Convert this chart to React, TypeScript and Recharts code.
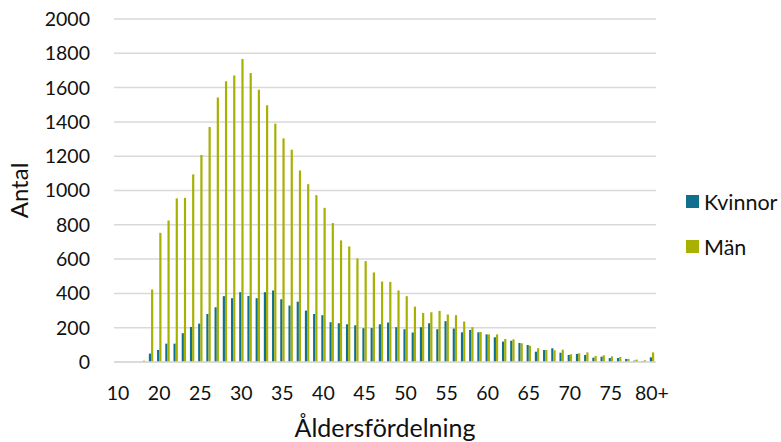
import React from 'react';
import { BarChart, Bar, XAxis, YAxis, CartesianGrid, Legend } from 'recharts';

// Åldersgrupper: "10" är första gruppen, därefter 16 ... 79 och 80+
const ages: string[] = [
  '10', '16', '17', '18', '19',
  '20', '21', '22', '23', '24', '25', '26', '27', '28', '29',
  '30', '31', '32', '33', '34', '35', '36', '37', '38', '39',
  '40', '41', '42', '43', '44', '45', '46', '47', '48', '49',
  '50', '51', '52', '53', '54', '55', '56', '57', '58', '59',
  '60', '61', '62', '63', '64', '65', '66', '67', '68', '69',
  '70', '71', '72', '73', '74', '75', '76', '77', '78', '79',
  '80+',
];

const kvinnor: number[] = [
  0, 0, 0, 0, 49,
  70, 107, 107, 168, 204, 224, 280, 319, 384, 372,
  407, 385, 372, 407, 417, 366, 329, 352, 300, 280,
  273, 232, 226, 220, 214, 197, 198, 220, 230, 203,
  191, 172, 203, 226, 191, 238, 195, 173, 187, 173,
  161, 144, 119, 124, 111, 99, 60, 70, 80, 54,
  41, 47, 41, 25, 31, 23, 23, 18, 8, 5,
  27,
];

const man: number[] = [
  0, 0, 0, 8, 423,
  753, 825, 954, 957, 1094, 1207, 1370, 1543, 1637, 1670,
  1767, 1685, 1588, 1497, 1390, 1304, 1238, 1117, 1037, 973,
  899, 810, 709, 674, 604, 588, 522, 469, 467, 417,
  384, 323, 286, 290, 298, 277, 273, 236, 203, 175,
  161, 161, 134, 132, 109, 95, 80, 70, 68, 72,
  45, 51, 56, 35, 39, 33, 29, 18, 14, 10,
  56,
];

const yTicks = [0, 200, 400, 600, 800, 1000, 1200, 1400, 1600, 1800, 2000];

const data = ages.map((age, i) => ({ age, kvinnor: kvinnor[i], man: man[i] }));

const FONT = 'Lato, "DejaVu Sans", sans-serif';
const TEXT = '#111';

const LegendBox = (props: any) => {
  const items = props.payload || [];
  return (
    <div style={{ fontFamily: FONT, fontSize: 21.5, color: TEXT }}>
      {items.map((it: any) => (
        <div key={it.value} style={{ display: 'flex', alignItems: 'center', height: 45 }}>
          <span style={{ display: 'inline-block', width: 13, height: 13, background: it.color, marginRight: 5 }} />
          <span>{it.value}</span>
        </div>
      ))}
    </div>
  );
};

export default function App() {
  return (
    <div style={{ position: 'absolute', left: 0, top: 0, width: 781, height: 442, background: '#fff' }}>
      <BarChart
        width={781}
        height={442}
        data={data}
        margin={{ top: 19, right: 125, bottom: 0, left: 0 }}
        barGap={0}
      >
        <CartesianGrid vertical={false} stroke="#d9d9d9" strokeWidth={1.5} />
        <XAxis
          dataKey="age"
          interval={4}
          height={80}
          tickLine={false}
          tickSize={0}
          tickMargin={24}
          axisLine={{ stroke: '#d9d9d9', strokeWidth: 1.5 }}
          tick={{ fill: TEXT, fontSize: 19.5, fontFamily: FONT }}
          label={{ value: 'Åldersfördelning', position: 'insideBottom', offset: 5, fill: TEXT, fontSize: 25, fontFamily: FONT }}
        />
        <YAxis
          width={114}
          domain={[0, 2000]}
          ticks={yTicks}
          axisLine={false}
          tickLine={false}
          tickSize={0}
          tickMargin={24}
          tick={{ fill: TEXT, fontSize: 19.5, fontFamily: FONT }}
          label={{ value: 'Antal', angle: -90, position: 'insideLeft', offset: 19, fill: TEXT, fontSize: 24, fontFamily: FONT, style: { textAnchor: 'middle' } }}
        />
        <Legend
          layout="vertical"
          verticalAlign="middle"
          align="center"
          content={<LegendBox />}
          wrapperStyle={{ position: 'absolute', left: 686, top: 179, width: 95 }}
        />
        <Bar dataKey="kvinnor" name="Kvinnor" fill="#12708F" barSize={2.2} isAnimationActive={false} />
        <Bar dataKey="man" name="Män" fill="#A8B000" barSize={2.2} isAnimationActive={false} />
      </BarChart>
    </div>
  );
}
